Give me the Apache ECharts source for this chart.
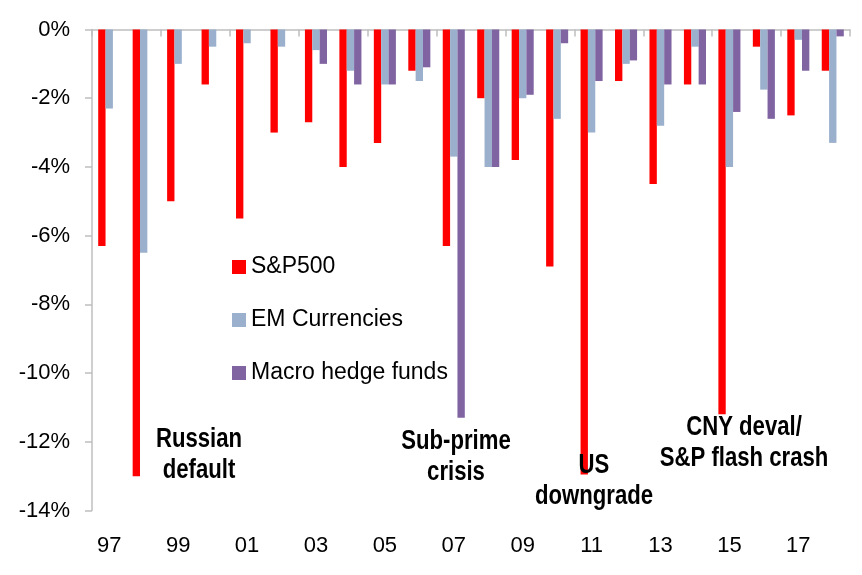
<!DOCTYPE html>
<html><head><meta charset="utf-8">
<script src="https://cdn.jsdelivr.net/npm/echarts@6/dist/echarts.min.js"></script>
<style>html,body{margin:0;padding:0;background:#fff}#c{width:862px;height:575px}</style>
</head><body><div id="c"></div>
<script>
const years = ['97','98','99','00','01','02','03','04','05','06','07','08','09','10','11','12','13','14','15','16','17','18'];
const sp500 = [-6.3,-13.0,-5.0,-1.6,-5.5,-3.0,-2.7,-4.0,-3.3,-1.2,-6.3,-2.0,-3.8,-6.9,-12.95,-1.5,-4.5,-1.6,-11.2,-0.5,-2.5,-1.2];
const emCurrencies = [-2.3,-6.5,-1.0,-0.5,-0.4,-0.5,-0.6,-1.2,-1.6,-1.5,-3.7,-4.0,-2.0,-2.6,-3.0,-1.0,-2.8,-0.5,-4.0,-1.75,-0.3,-3.3];
const macroHF = [null,null,null,null,null,null,-1.0,-1.6,-1.6,-1.1,-11.3,-4.0,-1.9,-0.4,-1.5,-0.9,-1.6,-1.6,-2.4,-2.6,-1.2,-0.2];
const annotations = [
  {text:'Russian\ndefault', x:199, y:455},
  {text:'Sub-prime\ncrisis', x:456, y:457},
  {text:'US\ndowngrade', x:594, y:481},
  {text:'CNY deval/\nS&P flash crash', x:744, y:443}
];
const FONT = '"Liberation Sans", Arial, sans-serif';
const chart = echarts.init(document.getElementById('c'));
chart.setOption({
  animation:false,
  backgroundColor:'#fff',
  textStyle:{fontFamily:FONT},
  grid:{left:92, right:12, top:29.5, bottom:64.5, containLabel:false},
  legend:{
    orient:'vertical', left:227, top:249, itemWidth:14, itemHeight:14, itemGap:27,
    icon:'rect',
    textStyle:{fontFamily:FONT, fontSize:23, color:'#000', lineHeight:26},
    data:['S&P500','EM Currencies','Macro hedge funds']
  },
  xAxis:[
    {type:'category', data:years, position:'top',
     axisLine:{show:true, onZero:false, lineStyle:{color:'#BFBFBF', width:1.5}},
     axisTick:{show:true, inside:true, length:7, interval:1, lineStyle:{color:'#BFBFBF', width:1.5}},
     axisLabel:{show:false}, splitLine:{show:false}},
    {type:'category', data:years, position:'bottom',
     axisLine:{show:false}, axisTick:{show:false},
     axisLabel:{show:true, interval:1, margin:24, fontSize:22, color:'#000', fontFamily:FONT},
     splitLine:{show:false}}
  ],
  yAxis:{
    type:'value', min:-14, max:0, interval:2,
    axisLine:{show:true, lineStyle:{color:'#BFBFBF', width:1.5}},
    axisTick:{show:true, length:7, lineStyle:{color:'#BFBFBF', width:1.5}},
    axisLabel:{formatter:v=>v+'%', fontSize:22, color:'#000', margin:22, fontFamily:FONT},
    splitLine:{show:false}
  },
  series:[
    {name:'S&P500', type:'bar', xAxisIndex:0, data:sp500, itemStyle:{color:'#FF0000'}, barGap:'0%', barCategoryGap:'36%'},
    {name:'EM Currencies', type:'bar', xAxisIndex:0, data:emCurrencies, itemStyle:{color:'#9AB0CC'}, barGap:'0%', barCategoryGap:'36%'},
    {name:'Macro hedge funds', type:'bar', xAxisIndex:0, data:macroHF, itemStyle:{color:'#8064A2'}, barGap:'0%', barCategoryGap:'36%'}
  ],
  graphic: annotations.map(a=>({
    type:'text', x:a.x, y:a.y, scaleX:0.82, z:100,
    style:{text:a.text, fontFamily:FONT, fontSize:27, fontWeight:'bold', fill:'#000',
      align:'center', verticalAlign:'middle', lineHeight:31}
  }))
});
</script></body></html>
